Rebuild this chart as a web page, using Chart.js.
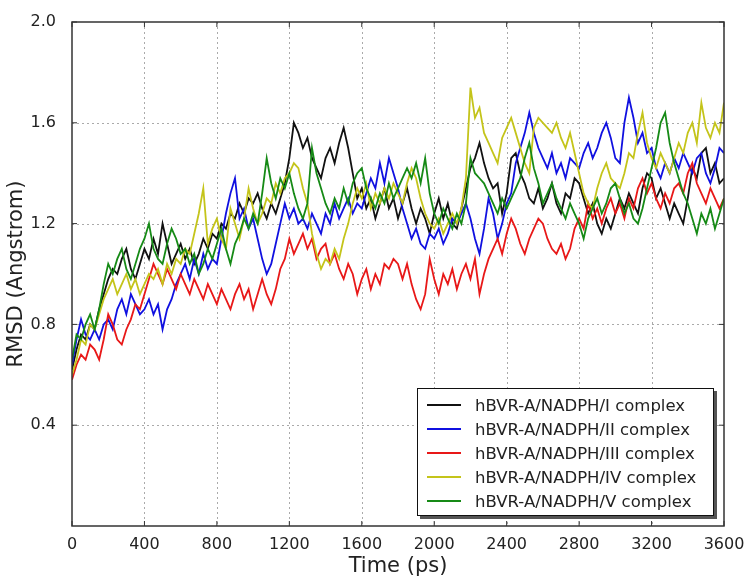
<!DOCTYPE html>
<html>
<head>
<meta charset="utf-8">
<script src="https://cdn.jsdelivr.net/npm/chart.js@4.4.1/dist/chart.umd.min.js"></script>
<style>
  body { margin: 0; background: #fff; }
  #wrap { position: relative; width: 750px; height: 583px; }
  #legend {
    position: absolute; left: 417px; top: 388px; width: 297px; height: 128px;
    background: #fff; border: 1.5px solid #111; box-shadow: 3px 3px 0 #555;
    font-family: "DejaVu Sans", sans-serif; font-size: 16.5px; color: #222;
    box-sizing: border-box; padding-top: 4px;
  }
  #legend .row { display: flex; align-items: center; height: 24px; }
  #legend .swatch { width: 34px; height: 2px; margin: 0 14px 0 9px; }
</style>
</head>
<body>
<div id="wrap">
  <canvas id="rmsd"></canvas>
  <div id="legend"></div>
</div>
<script>
const step = 25;   // ps between samples
const xTicks = [0, 400, 800, 1200, 1600, 2000, 2400, 2800, 3200, 3600];
const yTicks = [0.4, 0.8, 1.2, 1.6, 2.0];
const labels = [
  "hBVR-A/NADPH/I complex",
  "hBVR-A/NADPH/II complex",
  "hBVR-A/NADPH/III complex",
  "hBVR-A/NADPH/IV complex",
  "hBVR-A/NADPH/V complex"
];
const colors = ["#111111", "#1010e0", "#e81818", "#c4c41a", "#168a16"];

const complexI = [
  0.62, 0.70, 0.76, 0.74, 0.80, 0.78, 0.86, 0.92,
  0.98, 1.02, 1.00, 1.06, 1.10, 1.02, 0.98, 1.04,
  1.10, 1.06, 1.14, 1.08, 1.20, 1.12, 1.04, 1.08,
  1.12, 1.06, 1.10, 1.04, 1.08, 1.14, 1.10, 1.16,
  1.14, 1.20, 1.18, 1.24, 1.22, 1.28, 1.24, 1.30,
  1.28, 1.32, 1.26, 1.22, 1.28, 1.24, 1.30, 1.36,
  1.46, 1.60, 1.56, 1.50, 1.54, 1.46, 1.42, 1.38,
  1.46, 1.50, 1.44, 1.52, 1.58, 1.50, 1.40, 1.30,
  1.34, 1.26, 1.30, 1.22, 1.28, 1.34, 1.26, 1.30,
  1.22, 1.28, 1.34, 1.26, 1.20, 1.26, 1.22, 1.16,
  1.24, 1.30, 1.22, 1.28, 1.20, 1.18, 1.26, 1.34,
  1.42, 1.46, 1.52, 1.44, 1.38, 1.34, 1.36, 1.24,
  1.32, 1.46, 1.48, 1.40, 1.36, 1.30, 1.28, 1.34,
  1.26, 1.30, 1.36, 1.28, 1.24, 1.32, 1.30, 1.38,
  1.36, 1.30, 1.24, 1.28, 1.20, 1.16, 1.22, 1.18,
  1.24, 1.30, 1.26, 1.32, 1.28, 1.24, 1.34, 1.40,
  1.38, 1.30, 1.34, 1.28, 1.22, 1.28, 1.24, 1.20,
  1.30, 1.42, 1.38, 1.48, 1.50, 1.40, 1.44, 1.36,
  1.38
];
const complexII = [
  0.64, 0.74, 0.82, 0.76, 0.74, 0.78, 0.74, 0.80,
  0.82, 0.78, 0.86, 0.90, 0.84, 0.92, 0.88, 0.84,
  0.86, 0.90, 0.84, 0.88, 0.78, 0.86, 0.90, 0.96,
  1.00, 1.04, 0.98, 1.06, 1.00, 1.08, 1.02, 1.06,
  1.04, 1.14, 1.24, 1.32, 1.38, 1.22, 1.26, 1.18,
  1.22, 1.14, 1.06, 1.00, 1.04, 1.12, 1.20, 1.28,
  1.22, 1.26, 1.20, 1.22, 1.18, 1.24, 1.20, 1.16,
  1.24, 1.20, 1.28, 1.22, 1.26, 1.30, 1.24, 1.28,
  1.26, 1.32, 1.38, 1.34, 1.44, 1.36, 1.46, 1.40,
  1.34, 1.26, 1.20, 1.14, 1.18, 1.12, 1.10, 1.16,
  1.14, 1.18, 1.12, 1.16, 1.22, 1.20, 1.24, 1.28,
  1.22, 1.14, 1.08, 1.18, 1.30, 1.24, 1.14, 1.20,
  1.28, 1.32, 1.44, 1.50, 1.56, 1.64, 1.56, 1.50,
  1.46, 1.42, 1.48, 1.40, 1.44, 1.38, 1.46, 1.44,
  1.42, 1.48, 1.52, 1.46, 1.50, 1.56, 1.60, 1.54,
  1.46, 1.44, 1.60, 1.70, 1.62, 1.52, 1.56, 1.48,
  1.50, 1.42, 1.38, 1.44, 1.40, 1.46, 1.42, 1.48,
  1.44, 1.40, 1.46, 1.48, 1.40, 1.36, 1.42, 1.50,
  1.48
];
const complexIII = [
  0.58, 0.64, 0.68, 0.66, 0.72, 0.70, 0.66, 0.74,
  0.84, 0.80, 0.74, 0.72, 0.78, 0.82, 0.88, 0.86,
  0.92, 0.98, 1.04, 1.00, 0.96, 1.02, 0.98, 0.94,
  1.00, 0.96, 0.92, 0.98, 0.94, 0.90, 0.96, 0.92,
  0.88, 0.94, 0.90, 0.86, 0.92, 0.96, 0.90, 0.94,
  0.86, 0.92, 0.98, 0.92, 0.88, 0.94, 1.02, 1.06,
  1.14, 1.08, 1.12, 1.16, 1.10, 1.14, 1.06, 1.10,
  1.12, 1.04, 1.08, 1.02, 0.98, 1.04, 1.00, 0.92,
  0.98, 1.02, 0.94, 1.00, 0.96, 1.04, 1.02, 1.06,
  1.04, 0.98, 1.04, 0.96, 0.90, 0.86, 0.92, 1.06,
  0.98, 0.92, 1.00, 0.96, 1.02, 0.94, 1.00, 1.04,
  0.98, 1.06, 0.92, 1.00, 1.06, 1.10, 1.14, 1.08,
  1.16, 1.22, 1.18, 1.12, 1.08, 1.14, 1.18, 1.22,
  1.20, 1.14, 1.10, 1.08, 1.12, 1.06, 1.10, 1.18,
  1.22, 1.18, 1.28, 1.22, 1.26, 1.20, 1.26, 1.30,
  1.24, 1.28, 1.22, 1.30, 1.26, 1.34, 1.38, 1.32,
  1.36, 1.30, 1.26, 1.32, 1.28, 1.34, 1.36, 1.32,
  1.40, 1.44, 1.36, 1.32, 1.28, 1.34, 1.30, 1.26,
  1.30
];
const complexIV = [
  0.60, 0.66, 0.74, 0.72, 0.80, 0.78, 0.84, 0.90,
  0.94, 0.98, 0.92, 0.96, 1.00, 0.94, 0.98, 0.92,
  0.96, 1.00, 0.98, 1.02, 0.96, 1.04, 1.00, 1.06,
  1.04, 1.10, 1.08, 1.16, 1.24, 1.34, 1.12, 1.18,
  1.22, 1.14, 1.10, 1.26, 1.20, 1.14, 1.22, 1.34,
  1.26, 1.20, 1.24, 1.30, 1.28, 1.36, 1.32, 1.38,
  1.40, 1.44, 1.42, 1.34, 1.28, 1.16, 1.08, 1.02,
  1.06, 1.04, 1.10, 1.06, 1.14, 1.20, 1.28, 1.34,
  1.30, 1.36, 1.26, 1.32, 1.28, 1.34, 1.30, 1.36,
  1.32, 1.28, 1.36, 1.42, 1.38, 1.30, 1.24, 1.20,
  1.18, 1.22, 1.16, 1.20, 1.24, 1.20, 1.26, 1.38,
  1.74, 1.62, 1.66, 1.56, 1.52, 1.48, 1.44, 1.54,
  1.58, 1.62, 1.56, 1.50, 1.44, 1.40, 1.58, 1.62,
  1.60, 1.58, 1.56, 1.60, 1.54, 1.50, 1.56, 1.48,
  1.40, 1.32, 1.28, 1.26, 1.34, 1.40, 1.44, 1.38,
  1.36, 1.34, 1.40, 1.48, 1.46, 1.56, 1.64, 1.52,
  1.46, 1.42, 1.48, 1.44, 1.40, 1.46, 1.52, 1.48,
  1.56, 1.60, 1.52, 1.68, 1.58, 1.54, 1.60, 1.56,
  1.68
];
const complexV = [
  0.66, 0.76, 0.74, 0.80, 0.84, 0.78, 0.86, 0.96,
  1.04, 1.00, 1.06, 1.10, 1.02, 0.98, 1.04, 1.10,
  1.14, 1.20, 1.10, 1.06, 1.04, 1.12, 1.18, 1.14,
  1.08, 1.10, 1.04, 1.08, 1.00, 1.04, 1.10, 1.06,
  1.12, 1.18, 1.10, 1.04, 1.12, 1.16, 1.22, 1.18,
  1.24, 1.20, 1.32, 1.46, 1.36, 1.30, 1.38, 1.34,
  1.40, 1.32, 1.26, 1.22, 1.28, 1.50, 1.40, 1.34,
  1.28, 1.24, 1.30, 1.26, 1.34, 1.28, 1.36, 1.40,
  1.42, 1.34, 1.30, 1.26, 1.32, 1.28, 1.36, 1.30,
  1.34, 1.38, 1.42, 1.38, 1.44, 1.36, 1.46, 1.32,
  1.24, 1.20, 1.26, 1.22, 1.18, 1.24, 1.20, 1.28,
  1.46, 1.40, 1.38, 1.36, 1.32, 1.28, 1.24, 1.30,
  1.26, 1.30, 1.34, 1.38, 1.46, 1.52, 1.42, 1.36,
  1.28, 1.32, 1.36, 1.30, 1.26, 1.22, 1.28, 1.24,
  1.20, 1.14, 1.22, 1.26, 1.30, 1.24, 1.28, 1.34,
  1.36, 1.30, 1.24, 1.28, 1.22, 1.20, 1.26, 1.34,
  1.42, 1.50, 1.60, 1.64, 1.52, 1.44, 1.38, 1.32,
  1.28, 1.22, 1.16, 1.24, 1.20, 1.26, 1.18, 1.24,
  1.30
];

const series = [complexI, complexII, complexIII, complexIV, complexV];

// dotted grid under the lines
const gridPlugin = {
  id: "dotgrid",
  beforeDatasetsDraw(chart) {
    const { ctx, chartArea: a, scales } = chart;
    ctx.save();
    ctx.strokeStyle = "#aaa";
    ctx.lineWidth = 1;
    ctx.setLineDash([2, 3]);
    ctx.beginPath();
    xTicks.slice(1, -1).forEach(v => {
      const px = Math.round(scales.x.getPixelForValue(v)) + 0.5;
      ctx.moveTo(px, a.top); ctx.lineTo(px, a.bottom);
    });
    yTicks.slice(0, -1).forEach(v => {
      const py = Math.round(scales.y.getPixelForValue(v)) + 0.5;
      ctx.moveTo(a.left, py); ctx.lineTo(a.right, py);
    });
    ctx.stroke();
    ctx.restore();
  }
};

// matplotlib-like frame and inward ticks
const framePlugin = {
  id: "frame",
  afterDatasetsDraw(chart) {
    const { ctx, chartArea: a, scales } = chart;
    ctx.save();
    ctx.strokeStyle = "#333";
    ctx.lineWidth = 1.5;
    ctx.strokeRect(a.left, a.top, a.right - a.left, a.bottom - a.top);
    ctx.lineWidth = 1;
    ctx.beginPath();
    xTicks.forEach(v => {
      const px = scales.x.getPixelForValue(v);
      ctx.moveTo(px, a.bottom); ctx.lineTo(px, a.bottom - 5);
      ctx.moveTo(px, a.top); ctx.lineTo(px, a.top + 5);
    });
    yTicks.forEach(v => {
      const py = scales.y.getPixelForValue(v);
      ctx.moveTo(a.left, py); ctx.lineTo(a.left + 5, py);
      ctx.moveTo(a.right, py); ctx.lineTo(a.right - 5, py);
    });
    ctx.stroke();
    ctx.restore();
  }
};

const font = "'DejaVu Sans', sans-serif";

new Chart(document.getElementById("rmsd"), {
  type: "line",
  data: {
    datasets: series.map((s, i) => ({
      label: labels[i],
      data: s.map((v, k) => ({ x: k * step, y: v })),
      borderColor: colors[i],
      backgroundColor: colors[i],
      borderWidth: 1.8,
      pointRadius: 0,
      tension: 0,
      fill: false,
      order: 5 - i
    }))
  },
  options: {
    responsive: true,
    maintainAspectRatio: false,
    animation: false,
    layout: { padding: { top: 22, right: 26, left: 0, bottom: 0 } },
    plugins: { legend: { display: false }, tooltip: { enabled: false } },
    scales: {
      x: {
        type: "linear",
        min: 0, max: 3600,
        afterBuildTicks: s => { s.ticks = xTicks.map(v => ({ value: v })); },
        afterFit: s => { s.height = 57; },
        ticks: {
          color: "#222", font: { family: font, size: 16 }, padding: 1, maxRotation: 0,
          callback: v => String(v)
        },
        grid: { display: false },
        border: { display: false },
        title: { display: true, text: "Time (ps)", color: "#222", font: { family: font, size: 21 }, padding: { top: 0 } }
      },
      y: {
        min: 0, max: 2.0,
        afterBuildTicks: s => { s.ticks = [0].concat(yTicks).map(v => ({ value: v })); },
        afterFit: s => { s.width = 72; },
        ticks: {
          color: "#222", font: { family: font, size: 16 }, padding: 8,
          callback: v => (v === 0 ? "" : v.toFixed(1))
        },
        grid: { display: false },
        border: { display: false },
        title: { display: true, text: "RMSD (Angstrom)", color: "#222", font: { family: font, size: 21 }, padding: { bottom: 4 } }
      }
    }
  },
  plugins: [gridPlugin, framePlugin]
});

const legend = document.getElementById("legend");
labels.forEach((t, i) => {
  const row = document.createElement("div");
  row.className = "row";
  row.innerHTML = '<span class="swatch" style="background:' + colors[i] + '"></span><span>' + t + "</span>";
  legend.appendChild(row);
});
</script>
</body>
</html>
